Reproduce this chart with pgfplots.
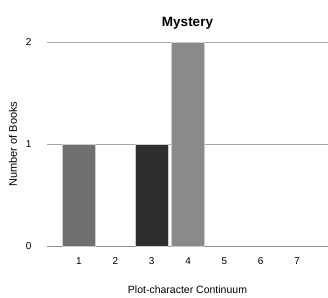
\documentclass[border=0pt]{standalone}
\usepackage{pgfplots}
\pgfplotsset{compat=1.18}
\usepackage{fontspec}
\setmainfont{Liberation Sans}
\definecolor{barA}{HTML}{707070}
\definecolor{barB}{HTML}{2E2E2E}
\definecolor{barC}{HTML}{8A8A8A}
\begin{document}
\begin{tikzpicture}
\begin{axis}[
  scale only axis,
  width=281pt, height=204pt,
  xmin=0.12, xmax=7.85,
  ymin=0, ymax=2,
  axis x line*=bottom,
  axis y line*=left,
  y axis line style={draw=none},
  x axis line style={draw=gray!90, line width=0.8pt},
  ytick={0,1,2},
  xtick={1,2,3,4,5,6,7},
  major tick length=0pt,
  ymajorgrids,
  grid style={draw=black!35, line width=0.6pt},
  font=\fontsize{10}{12}\selectfont,
  ticklabel style={font=\fontsize{10}{12}\selectfont},
  /pgf/number format/assume math mode=true,
  xticklabel style={yshift=-8pt},
  yticklabel style={xshift=-12pt},
  ylabel={Number of Books},
  ylabel style={font=\fontsize{11}{13}\selectfont},
  every axis y label/.append style={at={(ticklabel cs:0.5)}, anchor=south, yshift=2pt},
  xlabel={Plot-character Continuum},
  xlabel style={font=\fontsize{10.5}{12}\selectfont, yshift=-14pt},
  title={\textbf{Mystery}},
  title style={font=\fontsize{13.5}{15}\selectfont, yshift=3pt},
  ybar, bar width=0.91, bar shift=0pt,
  clip=false,
]
\addplot[fill=barA, draw=white!80!black, line width=0.5pt] coordinates {(1,1)};
\addplot[fill=barB, draw=white!80!black, line width=0.5pt] coordinates {(3,1)};
\addplot[fill=barC, draw=white!80!black, line width=0.5pt] coordinates {(4,2)};
\end{axis}
\pgfresetboundingbox
\path (-47pt,-51pt) rectangle (281pt,246pt);
\end{tikzpicture}
\end{document}
